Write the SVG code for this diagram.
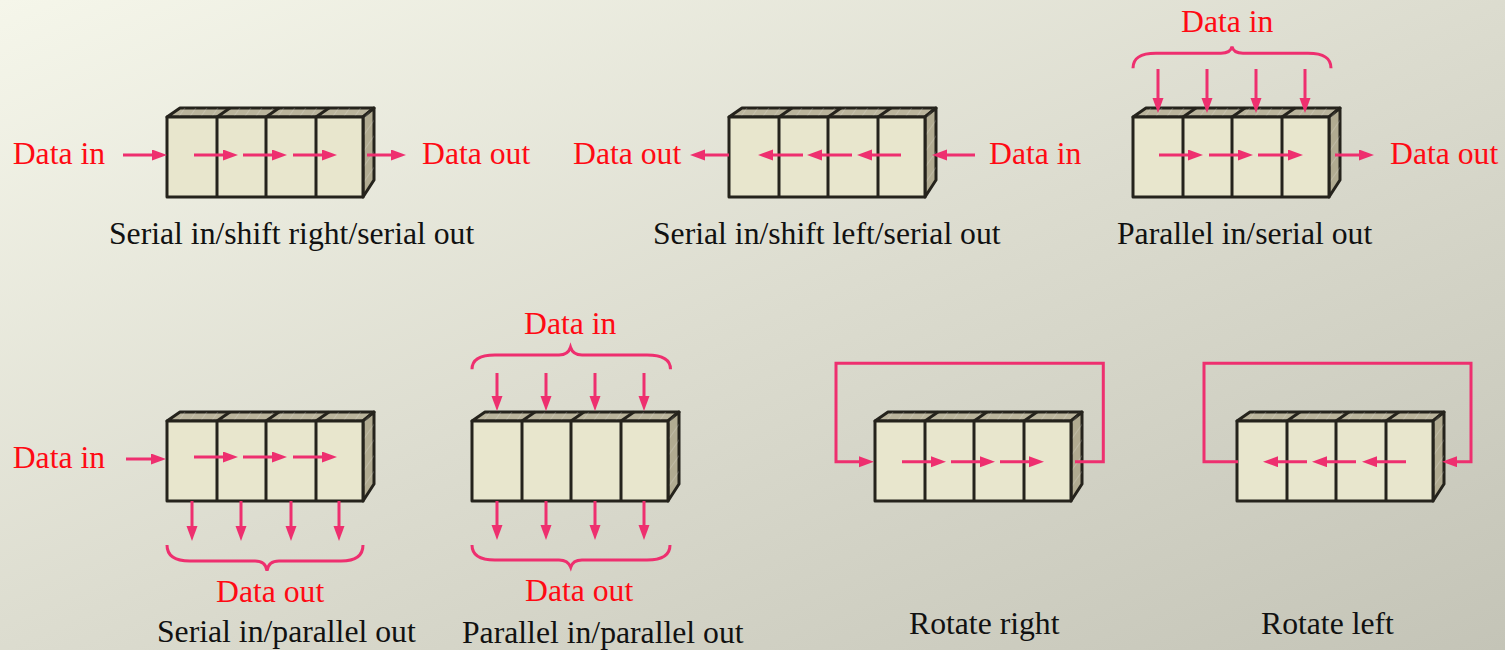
<svg xmlns="http://www.w3.org/2000/svg" xmlns:xlink="http://www.w3.org/1999/xlink" width="1505" height="650" viewBox="0 0 1505 650">
  <style>
    .lbl { font-family: "Liberation Serif", "Times New Roman", serif; font-size: 31.7px; fill: #111111; }
    .io { font-family: "Liberation Serif", "Times New Roman", serif; font-size: 31.7px; fill: #ff0a14; }
    .face { stroke: #25231c; stroke-width: 3; stroke-linejoin: round; }
    .front { fill: #e8e6cd; }
    .top { fill: #bab49c; }
    .side { fill: #b1ab91; }
    .streak { fill: url(#streaks); stroke: none; }
    .wire { fill: none; stroke: #ee2f6f; stroke-width: 3; stroke-linejoin: miter; }
    .wire-a { fill: none; stroke: #ee2f6f; stroke-width: 3; marker-end: url(#head); }
  </style>
  <defs>
    <linearGradient id="bg" x1="0" y1="0" x2="1" y2="1">
      <stop offset="0" stop-color="#f5f6ea"/>
      <stop offset="0.5" stop-color="#dcdccf"/>
      <stop offset="1" stop-color="#c4c4b7"/>
    </linearGradient>
    <pattern id="streaks" width="9" height="9" patternUnits="userSpaceOnUse" patternTransform="rotate(35)">
      <rect x="0" y="0" width="1" height="9" fill="#ffffff" opacity="0.18"/>
    </pattern>
    <marker id="head" markerUnits="userSpaceOnUse" markerWidth="16" markerHeight="12" refX="5" refY="5.5" orient="auto">
      <path d="M0,0 L15,5.5 L0,11 z" fill="#ee2f6f"/>
    </marker>
    <!-- four-stage register block, origin at the front face's top-left corner -->
    <g id="reg">
      <polygon class="top face" points="0,0 13,-9 207,-9 196,0"/>
      <polygon class="streak" points="0,0 13,-9 207,-9 196,0"/>
      <polygon class="side face" points="196,0 207,-9 207,63 196,80"/>
      <polygon class="streak" points="196,0 207,-9 207,63 196,80"/>
      <line class="face" x1="50" y1="0" x2="63" y2="-9"/>
      <line class="face" x1="99" y1="0" x2="112" y2="-9"/>
      <line class="face" x1="149" y1="0" x2="162" y2="-9"/>
      <rect class="front face" x="0" y="0" width="196" height="80"/>
      <line class="face" x1="50" y1="0" x2="50" y2="80"/>
      <line class="face" x1="99" y1="0" x2="99" y2="80"/>
      <line class="face" x1="149" y1="0" x2="149" y2="80"/>
    </g>
  </defs>

  <rect x="0" y="0" width="1505" height="650" fill="url(#bg)"/>

  <g id="sisr">
    <use xlink:href="#reg" x="167" y="117"/>
    <text class="io" x="12.7" y="164">Data in</text>
    <text class="io" x="422" y="164">Data out</text>
    <text class="lbl" x="109" y="244">Serial in/shift right/serial out</text>
  </g>

  <g id="sisl">
    <use xlink:href="#reg" x="729" y="117"/>
    <text class="io" x="573" y="164">Data out</text>
    <text class="io" x="989" y="164">Data in</text>
    <text class="lbl" x="653" y="244">Serial in/shift left/serial out</text>
  </g>

  <g id="piso">
    <use xlink:href="#reg" x="1133" y="117"/>
    <text class="io" x="1181" y="31.7">Data in</text>
    <text class="io" x="1390" y="164">Data out</text>
    <text class="lbl" x="1117" y="244">Parallel in/serial out</text>
  </g>

  <g id="sipo">
    <use xlink:href="#reg" x="167" y="421"/>
    <text class="io" x="12.7" y="468">Data in</text>
    <text class="io" x="216" y="602">Data out</text>
    <text class="lbl" x="157" y="642">Serial in/parallel out</text>
  </g>

  <g id="pipo">
    <use xlink:href="#reg" x="472" y="421"/>
    <text class="io" x="524" y="334">Data in</text>
    <text class="io" x="525" y="601">Data out</text>
    <text class="lbl" x="462" y="643">Parallel in/parallel out</text>
  </g>

  <g id="rotr">
    <use xlink:href="#reg" x="875" y="421"/>
    <text class="lbl" x="909" y="634">Rotate right</text>
  </g>

  <g id="rotl">
    <use xlink:href="#reg" x="1237" y="421"/>
    <text class="lbl" x="1261" y="634">Rotate left</text>
  </g>

  <g id="connectors">
    <!-- serial in / shift right -->
    <line class="wire-a" x1="123" y1="155" x2="157" y2="155"/>
    <line class="wire-a" x1="194" y1="155" x2="228" y2="155"/>
    <line class="wire-a" x1="243" y1="155" x2="277" y2="155"/>
    <line class="wire-a" x1="293" y1="155" x2="327" y2="155"/>
    <line class="wire-a" x1="367" y1="155" x2="396" y2="155"/>

    <!-- serial in / shift left -->
    <line class="wire-a" x1="975" y1="155" x2="942" y2="155"/>
    <line class="wire-a" x1="901" y1="155" x2="867" y2="155"/>
    <line class="wire-a" x1="852" y1="155" x2="817" y2="155"/>
    <line class="wire-a" x1="803" y1="155" x2="768" y2="155"/>
    <line class="wire-a" x1="729" y1="155" x2="700" y2="155"/>

    <!-- parallel in / serial out -->
    <path class="wire" d="M1133,68.3 C1133,58 1140,53.3 1156,53.3 L1221,53.3 C1228,53.3 1231,51 1232,46.7 C1233,51 1236,53.3 1243,53.3 L1308,53.3 C1324,53.3 1331,58 1331,68.3"/>
    <line class="wire-a" x1="1158" y1="69" x2="1158" y2="103"/>
    <line class="wire-a" x1="1207" y1="69" x2="1207" y2="103"/>
    <line class="wire-a" x1="1256" y1="69" x2="1256" y2="103"/>
    <line class="wire-a" x1="1305" y1="69" x2="1305" y2="103"/>
    <line class="wire-a" x1="1159" y1="155" x2="1193" y2="155"/>
    <line class="wire-a" x1="1209" y1="155" x2="1243" y2="155"/>
    <line class="wire-a" x1="1258" y1="155" x2="1293" y2="155"/>
    <line class="wire-a" x1="1335" y1="155" x2="1364" y2="155"/>

    <!-- serial in / parallel out -->
    <line class="wire-a" x1="126" y1="459" x2="156" y2="459"/>
    <line class="wire-a" x1="194" y1="457" x2="228" y2="457"/>
    <line class="wire-a" x1="243" y1="457" x2="277" y2="457"/>
    <line class="wire-a" x1="293" y1="457" x2="327" y2="457"/>
    <line class="wire-a" x1="192" y1="501" x2="192" y2="531"/>
    <line class="wire-a" x1="241" y1="501" x2="241" y2="531"/>
    <line class="wire-a" x1="291" y1="501" x2="291" y2="531"/>
    <line class="wire-a" x1="339" y1="501" x2="339" y2="531"/>
    <path class="wire" d="M167,545 C167,555 174,561 190,561 L255,561 C262,561 266,564 267,570.7 C268,564 272,561 279,561 L341,561 C357,561 363,555 363,545"/>

    <!-- parallel in / parallel out -->
    <path class="wire" d="M472,369.3 C472,360 479,355 495,355 L559,355 C566,355 569,352 570.5,347.3 C572,352 575,355 582,355 L647,355 C663,355 670.5,360 670.5,369.3"/>
    <line class="wire-a" x1="497" y1="373" x2="497" y2="401"/>
    <line class="wire-a" x1="546" y1="373" x2="546" y2="401"/>
    <line class="wire-a" x1="595" y1="373" x2="595" y2="401"/>
    <line class="wire-a" x1="644" y1="373" x2="644" y2="401"/>
    <line class="wire-a" x1="497" y1="501" x2="497" y2="530"/>
    <line class="wire-a" x1="546" y1="501" x2="546" y2="530"/>
    <line class="wire-a" x1="595" y1="501" x2="595" y2="530"/>
    <line class="wire-a" x1="644" y1="501" x2="644" y2="530"/>
    <path class="wire" d="M472,545 C472,555 479,560 495,560 L559,560 C566,560 569,563 570.7,567.3 C572,563 575,560 582,560 L647,560 C663,560 670,555 670,545"/>

    <!-- rotate right -->
    <path class="wire-a" d="M1075,461.7 H1103.3 V363.3 H836 V461.7 H864"/>
    <line class="wire-a" x1="902" y1="461.7" x2="936" y2="461.7"/>
    <line class="wire-a" x1="951" y1="461.7" x2="985" y2="461.7"/>
    <line class="wire-a" x1="1000" y1="461.7" x2="1034" y2="461.7"/>

    <!-- rotate left -->
    <path class="wire-a" d="M1238,461.7 H1204 V363.3 H1471 V461.7 H1452"/>
    <line class="wire-a" x1="1307" y1="461.7" x2="1273" y2="461.7"/>
    <line class="wire-a" x1="1356" y1="461.7" x2="1322" y2="461.7"/>
    <line class="wire-a" x1="1406" y1="461.7" x2="1372" y2="461.7"/>
  </g>
</svg>
